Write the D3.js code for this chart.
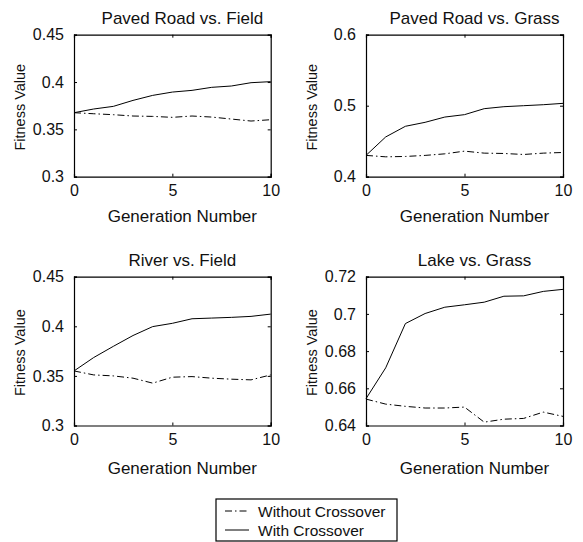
<!DOCTYPE html>
<html>
<head>
<meta charset="utf-8">
<script src="https://cdn.jsdelivr.net/npm/d3@7"></script>
<style>
  body { margin: 0; background: #fff; }
  svg { display: block; font-family: "Liberation Sans", Arial, sans-serif; }
</style>
</head>
<body>
<div class="chart"></div>
<script>
var width = 583;
var height = 542;

// data
var generations = [0, 1, 2, 3, 4, 5, 6, 7, 8, 9, 10];
var titles = ["Paved Road vs. Field", "Paved Road vs. Grass", "River vs. Field", "Lake vs. Grass"];

var pavedFieldWithout = [0.3676, 0.3665, 0.3655, 0.3641, 0.3637, 0.3627, 0.3641, 0.3630, 0.3609, 0.3588, 0.3602];
var pavedFieldWith    = [0.3676, 0.3715, 0.3743, 0.3806, 0.3859, 0.3894, 0.3912, 0.3944, 0.3958, 0.3993, 0.4004];
var pavedGrassWithout = [0.4300, 0.4280, 0.4285, 0.4300, 0.4322, 0.4360, 0.4332, 0.4327, 0.4313, 0.4332, 0.4341];
var pavedGrassWith    = [0.4300, 0.4560, 0.4710, 0.4766, 0.4840, 0.4874, 0.4958, 0.4986, 0.5000, 0.5014, 0.5033];
var riverFieldWithout = [0.3550, 0.3510, 0.3500, 0.3477, 0.3427, 0.3487, 0.3493, 0.3477, 0.3467, 0.3460, 0.3510];
var riverFieldWith    = [0.3550, 0.3685, 0.3798, 0.3907, 0.3997, 0.4030, 0.4076, 0.4083, 0.4090, 0.4100, 0.4123];
var lakeGrassWithout  = [0.6542, 0.6515, 0.6503, 0.6494, 0.6494, 0.6499, 0.6418, 0.6434, 0.6438, 0.6472, 0.6449];
var lakeGrassWith     = [0.6544, 0.6710, 0.6948, 0.7002, 0.7036, 0.7049, 0.7063, 0.7095, 0.7097, 0.7121, 0.7132];

var yDomains = [[0.3, 0.45], [0.4, 0.6], [0.3, 0.45], [0.64, 0.72]];
var yTicks = [[0.3, 0.35, 0.4, 0.45], [0.4, 0.5, 0.6], [0.3, 0.35, 0.4, 0.45], [0.64, 0.66, 0.68, 0.7, 0.72]];
var xTicks = [0, 5, 10];
var legendLabels = ["Without Crossover", "With Crossover"];

var withoutSeries = [pavedFieldWithout, pavedGrassWithout, riverFieldWithout, lakeGrassWithout];
var withSeries = [pavedFieldWith, pavedGrassWith, riverFieldWith, lakeGrassWith];

// panel boxes (pixels)
var cols = [[74, 270.7], [366, 563]];
var rows = [[34.7, 176.7], [276.7, 425.5]];
var dashDot = "7,3,1.5,3";

var svg = d3.select(".chart").append("svg")
  .attr("width", width)
  .attr("height", height);

var fmt = function(d) { return String(+d.toFixed(2)); };

titles.forEach(function(title, i) {
  var c = cols[i % 2], r = rows[Math.floor(i / 2)];
  var x = d3.scaleLinear().domain([0, 10]).range(c);
  var y = d3.scaleLinear().domain(yDomains[i]).range([r[1], r[0]]);
  var g = svg.append("g");

  // inward ticks on all four sides
  g.append("g").attr("transform", "translate(0," + r[1] + ")")
    .call(d3.axisBottom(x).tickValues(xTicks).tickSize(-3).tickPadding(8).tickFormat(d3.format("d")));
  g.append("g").attr("transform", "translate(0," + r[0] + ")")
    .call(d3.axisTop(x).tickValues(xTicks).tickSize(-3).tickFormat(""));
  g.append("g").attr("transform", "translate(" + c[0] + ",0)")
    .call(d3.axisLeft(y).tickValues(yTicks[i]).tickSize(-3).tickPadding(10).tickFormat(fmt));
  g.append("g").attr("transform", "translate(" + c[1] + ",0)")
    .call(d3.axisRight(y).tickValues(yTicks[i]).tickSize(-3).tickFormat(""));

  g.selectAll(".domain").attr("stroke", "#000").attr("stroke-width", 1.2);
  g.selectAll(".tick line").attr("stroke", "#000");
  g.selectAll(".tick text").attr("fill", "#111").style("font-size", "16px");

  var line = d3.line()
    .x(function(d, j) { return x(generations[j]); })
    .y(function(d) { return y(d); });

  g.append("path").datum(withoutSeries[i])
    .attr("fill", "none").attr("stroke", "#000").attr("stroke-width", 1)
    .attr("stroke-dasharray", dashDot)
    .attr("d", line);
  g.append("path").datum(withSeries[i])
    .attr("fill", "none").attr("stroke", "#000").attr("stroke-width", 1)
    .attr("d", line);

  // labels sit a little right of the box centre, as in the original
  var cx = (c[0] + c[1]) / 2 + 10;
  g.append("text")
    .attr("x", cx).attr("y", r[0] - 11)
    .attr("text-anchor", "middle")
    .style("font-size", "17px")
    .attr("fill", "#111")
    .text(title);
  g.append("text")
    .attr("x", cx).attr("y", r[1] + (i < 2 ? 45.5 : 48))
    .attr("text-anchor", "middle")
    .style("font-size", "17px")
    .attr("fill", "#111")
    .text("Generation Number");
  g.append("text")
    .attr("transform", "translate(" + (c[0] - 49) + "," + ((r[0] + r[1]) / 2 + 1.5) + ") rotate(-90)")
    .attr("text-anchor", "middle")
    .style("font-size", "14.5px")
    .attr("fill", "#111")
    .text("Fitness Value");
});

// legend
var legend = svg.append("g").attr("transform", "translate(216,499)");
legend.append("rect")
  .attr("width", 181).attr("height", 42)
  .attr("fill", "#fff").attr("stroke", "#000").attr("stroke-width", 1.2);

legendLabels.forEach(function(label, i) {
  var ly = 12 + i * 19;
  legend.append("line")
    .attr("x1", 9).attr("x2", 33).attr("y1", ly).attr("y2", ly)
    .attr("stroke", "#000").attr("stroke-width", 1)
    .attr("stroke-dasharray", i === 0 ? dashDot : null);
  legend.append("text")
    .attr("x", 42).attr("y", ly + 5.5)
    .style("font-size", "15.5px")
    .attr("fill", "#111")
    .text(label);
});
</script>
</body>
</html>
